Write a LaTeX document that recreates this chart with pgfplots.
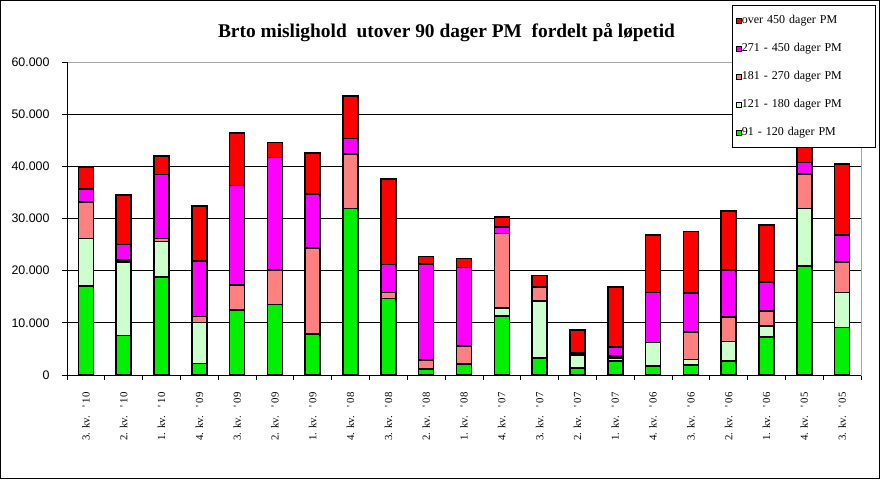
\documentclass[border=0pt]{standalone}
\usepackage{fontspec}
\setmainfont{Liberation Serif}
\newfontfamily\arialf{Liberation Sans}
\usepackage{pgfplots}
\pgfplotsset{compat=1.18}
\usepackage{pgfplotstable}
\definecolor{cgreen}{HTML}{00F000}
\definecolor{clight}{HTML}{CCFFCC}
\definecolor{csalmon}{HTML}{FF8080}
\definecolor{cmag}{HTML}{FF00FF}
\definecolor{cred}{HTML}{FF0000}

\pgfplotstableread{
x g l s m r
0 17100 9100 7000 2500 4200
1 7600 14100 300 3000 9500
2 18800 6800 600 12200 3600
3 2200 7900 1100 10700 10500
4 12500 0 4800 19000 10100
5 13500 0 6600 21600 2900
6 7900 0 16500 10300 7800
7 31900 0 10500 2900 8200
8 14700 0 1100 5400 16400
9 1200 0 1700 18400 1400
10 2100 0 3500 15000 1700
11 11300 1500 14300 1300 1900
12 3300 10900 2700 0 2200
13 1300 2500 400 0 4400
14 2700 600 300 1800 11500
15 1700 4500 0 9600 11000
16 1900 1100 5300 7400 11800
17 2700 3700 4700 9000 11300
18 7300 2100 2900 5500 11000
19 20900 11000 6600 2200 6300
20 9100 6700 5900 5100 13600
}\datatable

\newcommand{\kv}[2]{#1. kv.\hspace{8pt}\textquotesingle\ #2}

\begin{document}
\begin{tikzpicture}[x=1pt,y=1pt]
\useasboundingbox (0,0) rectangle (880,479);
\draw[line width=1pt] (0.5,0.5) rectangle (879.5,478.5);
\node[anchor=base, font=\fontsize{19.4}{21}\selectfont\bfseries] at (446.5,441) {Brto mislighold\ \ utover 90 dager PM\ \ fordelt på løpetid};
\begin{axis}[
  at={(67pt,104pt)}, anchor=south west,
  scale only axis, width=794pt, height=313pt,
  ybar stacked, bar width=15pt,
  xmin=-0.5, xmax=20.5, ymin=0, ymax=60000,
  scaled y ticks=false,
  axis line style={gray!70, line width=0.8pt},
  ymajorgrids, major grid style={black, line width=0.8pt},
  tick align=outside, major tick length=5pt,
  xtick pos=bottom, ytick pos=left,
  xtick={-0.5,0.5,...,20.5}, xticklabels={},
  ytick={0,10000,20000,30000,40000,50000,60000},
  yticklabels={0,10.000,20.000,30.000,40.000,50.000,60.000},
  yticklabel style={font=\arialf\fontsize{12.4}{14}\selectfont, xshift=-9pt},
  tick style={black, line width=0.8pt},
  extra x ticks={0,1,...,20},
  extra x tick labels={\kv{3}{10},\kv{2}{10},\kv{1}{10},\kv{4}{09},\kv{3}{09},\kv{2}{09},\kv{1}{09},\kv{4}{08},\kv{3}{08},\kv{2}{08},\kv{1}{08},\kv{4}{07},\kv{3}{07},\kv{2}{07},\kv{1}{07},\kv{4}{06},\kv{3}{06},\kv{2}{06},\kv{1}{06},\kv{4}{05},\kv{3}{05}},
  extra x tick style={major tick length=0pt, grid=none,
    tick label style={rotate=90, anchor=east, font=\fontsize{10.8}{12}\selectfont, yshift=0pt, xshift=-14pt}},
  reverse legend,
  legend style={at={(0.8375,1.1821)}, anchor=north west, draw=black, line width=0.8pt, fill=white,
    inner xsep=4pt, inner ysep=9pt, row sep=16pt,
    font=\fontsize{12}{14}\selectfont,
    nodes={inner sep=0pt, text height=9pt, text depth=3pt, text width=130pt, align=left}},
  mylegend/.style={legend image code/.code={\draw[##1, draw=black, line width=0.5pt] (0pt,-2.5pt) rectangle (5pt,2.5pt);}},
  every axis plot/.append style={draw=black, line width=1.6pt},
  clip=false,
]
\addplot[fill=cgreen, mylegend] table[x=x,y=g] {\datatable};
\addlegendentry{91 - 120 dager PM}
\addplot[fill=clight, mylegend] table[x=x,y=l] {\datatable};
\addlegendentry{121 - 180 dager PM}
\addplot[fill=csalmon, mylegend] table[x=x,y=s] {\datatable};
\addlegendentry{181 - 270 dager PM}
\addplot[fill=cmag, mylegend] table[x=x,y=m] {\datatable};
\addlegendentry{271 - 450 dager PM}
\addplot[fill=cred, mylegend] table[x=x,y=r] {\datatable};
\addlegendentry{over 450 dager PM}
\draw[black, line width=0.8pt] (rel axis cs:0,0) -- (rel axis cs:1,0);
\draw[black, line width=0.8pt] (rel axis cs:0,0) -- (rel axis cs:0,1);
\end{axis}
\end{tikzpicture}
\end{document}
